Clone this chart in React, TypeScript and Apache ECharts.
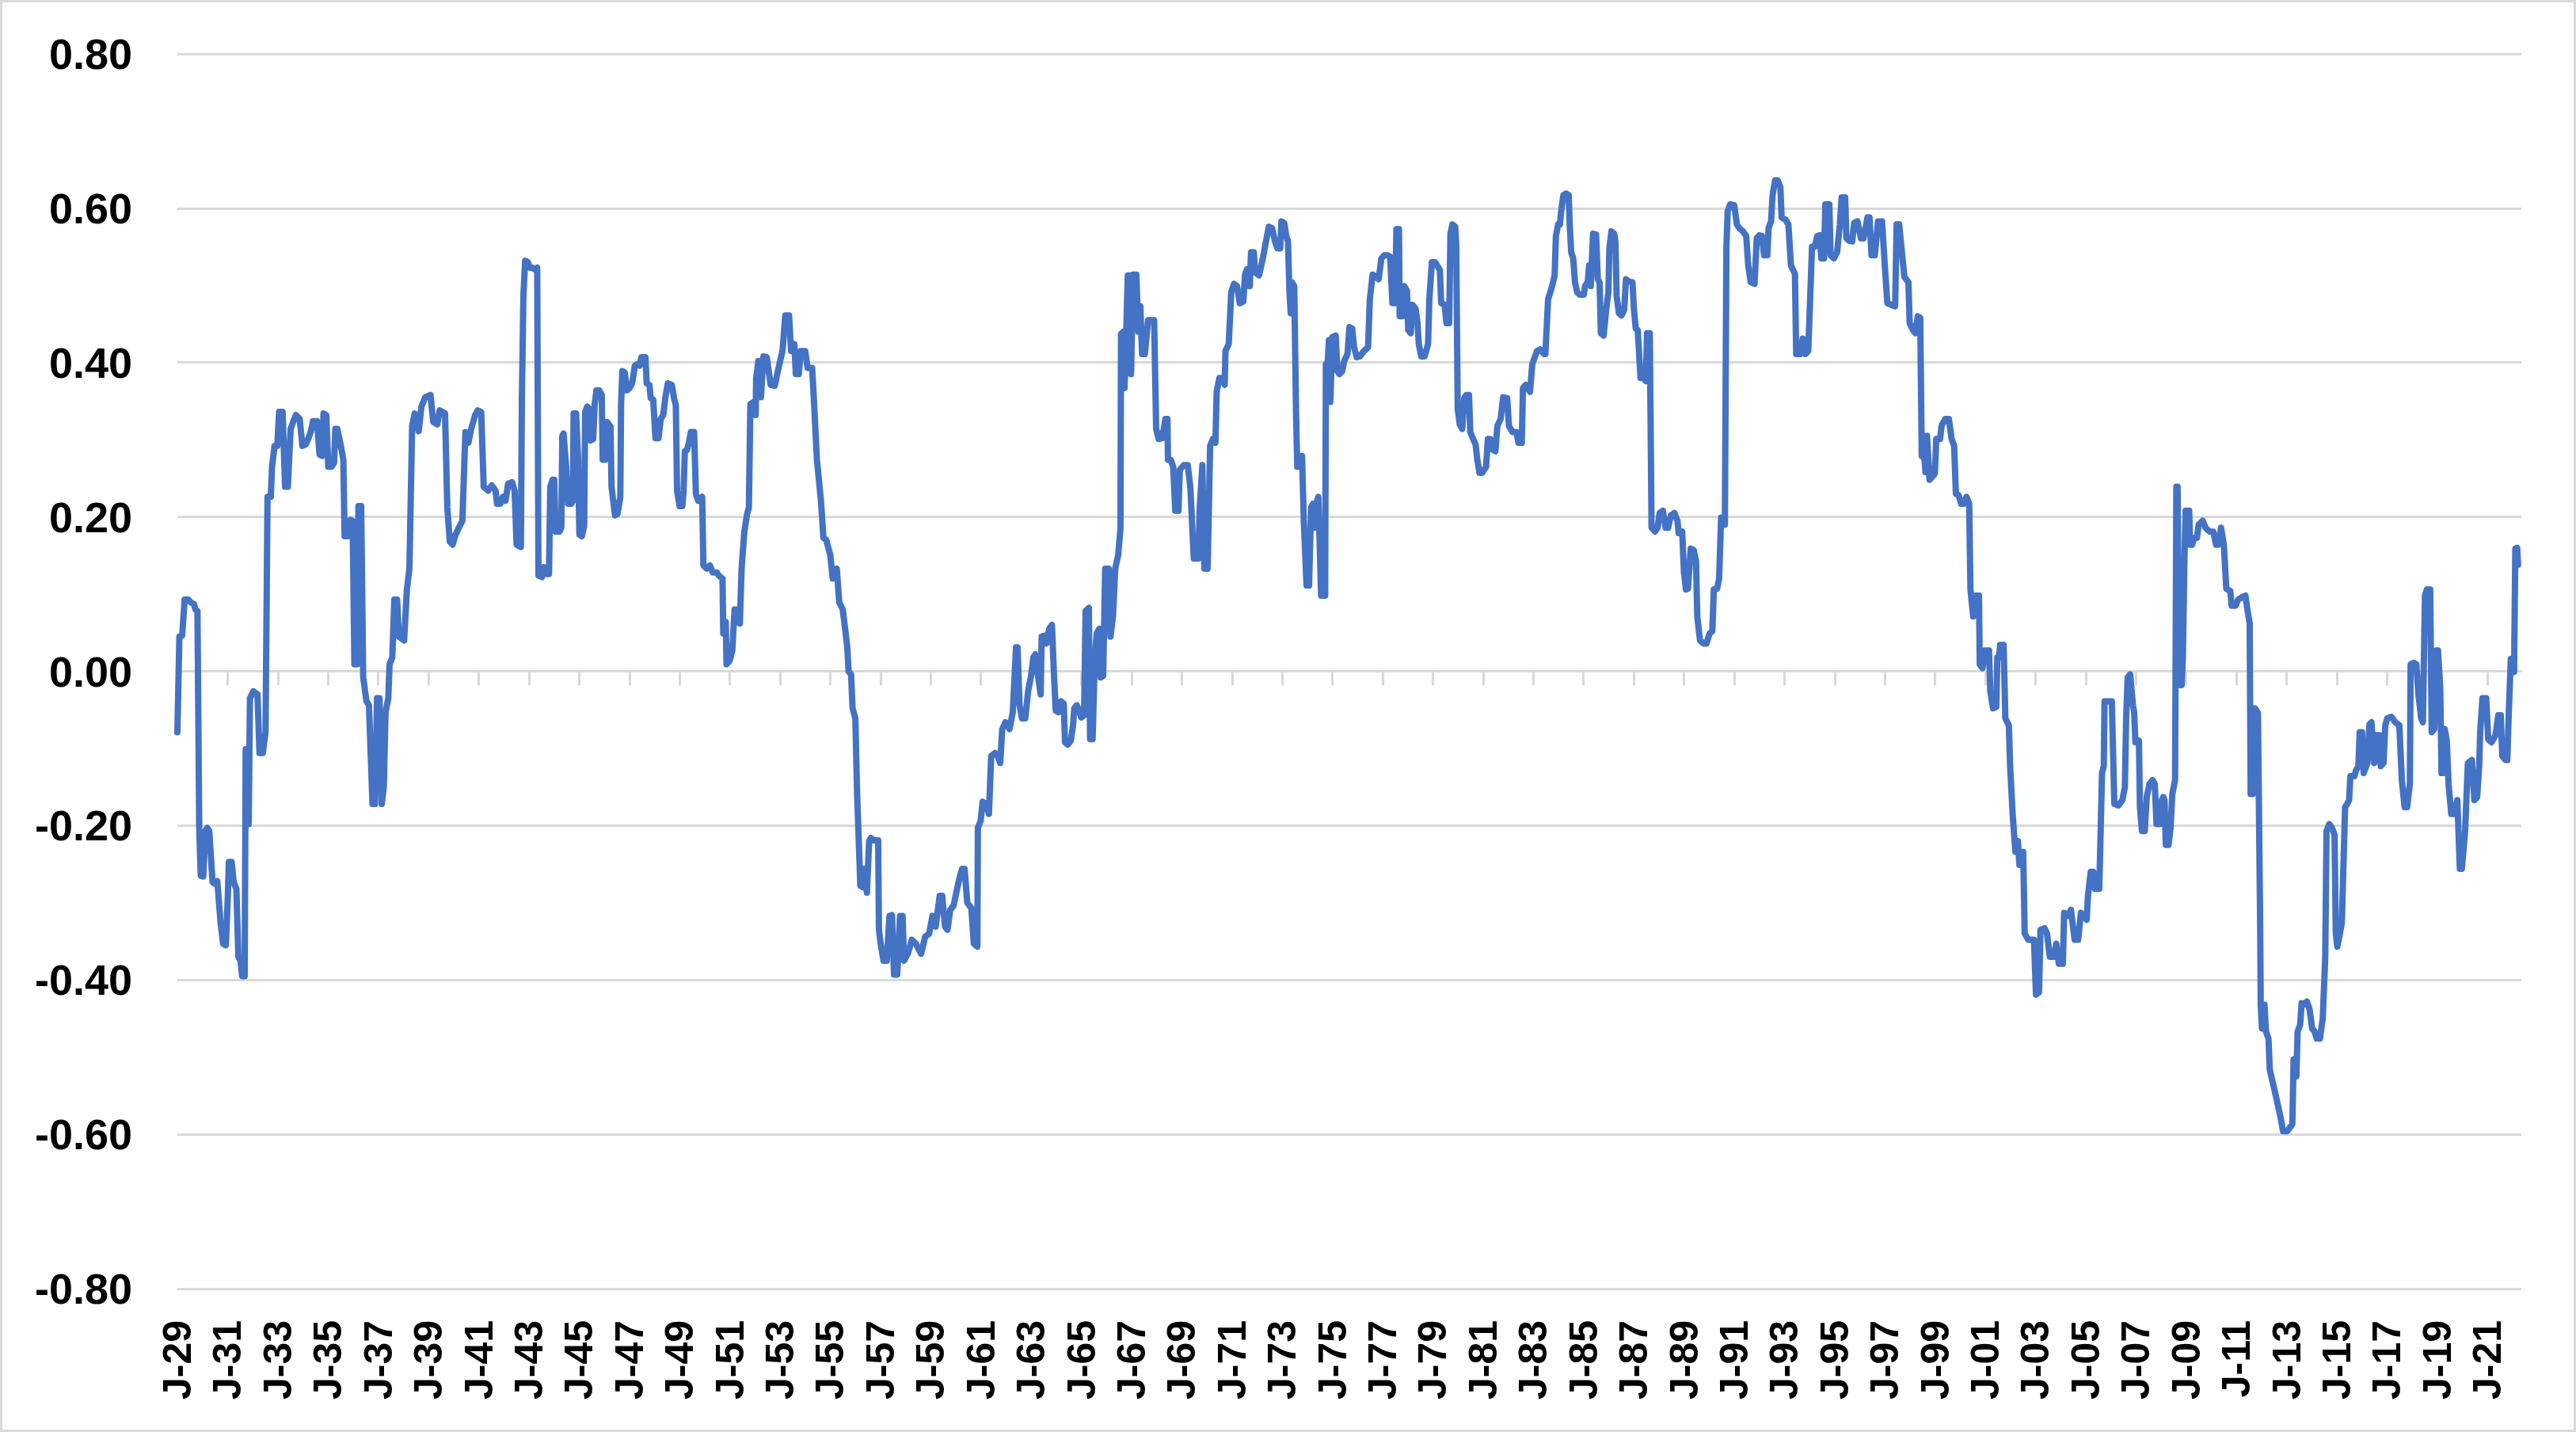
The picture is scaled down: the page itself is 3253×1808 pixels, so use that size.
import React, { useEffect, useRef } from 'react';
import * as echarts from 'echarts';

// [year, value] readings of the monthly series
const seg1929: [number, number][] = [
[1929.00,-0.079],[1929.08,0.045],[1929.19,0.046],[1929.29,0.093],[1929.43,0.093],[1929.54,0.089],[1929.66,0.087],[1929.72,0.080],[1929.80,0.078],[1929.87,-0.203],[1929.93,-0.265],[1930.03,-0.266],[1930.11,-0.207],[1930.19,-0.203],[1930.27,-0.207],[1930.40,-0.273],[1930.48,-0.275],[1930.59,-0.272],[1930.72,-0.326],[1930.82,-0.353],[1930.93,-0.355],[1931.01,-0.291],[1931.05,-0.247],[1931.16,-0.247],[1931.24,-0.273],[1931.35,-0.282],[1931.43,-0.370],[1931.51,-0.375],[1931.58,-0.395],[1931.68,-0.395],[1931.72,-0.101],[1931.77,-0.101],[1931.84,-0.198],[1931.89,-0.035],[1932.03,-0.026],[1932.19,-0.030],[1932.27,-0.106],[1932.40,-0.106],[1932.51,-0.079],[1932.59,0.226],[1932.72,0.226],[1932.77,0.265],[1932.87,0.292],[1932.98,0.292],[1933.05,0.336],[1933.19,0.336],[1933.29,0.239],[1933.40,0.239],[1933.51,0.314],[1933.61,0.323],[1933.72,0.332],[1933.87,0.327],[1933.98,0.292],[1934.11,0.294],[1934.21,0.301],[1934.32,0.311],[1934.40,0.324],[1934.56,0.324],[1934.66,0.281],[1934.77,0.279],[1934.82,0.334],[1934.93,0.332],[1935.01,0.265],[1935.14,0.265],[1935.24,0.270],[1935.29,0.314],[1935.37,0.314],[1935.51,0.292],[1935.61,0.274],[1935.66,0.175],[1935.79,0.175],[1935.89,0.196],[1935.98,0.195],[1936.05,0.009],[1936.16,0.009],[1936.21,0.214],[1936.32,0.214],[1936.40,-0.008],[1936.53,-0.039],[1936.63,-0.044],[1936.77,-0.172],[1936.87,-0.172],[1936.95,-0.035],[1937.05,-0.035],[1937.14,-0.172],[1937.22,-0.150],[1937.29,-0.053],[1937.40,-0.035],[1937.45,0.009],[1937.56,0.018],[1937.64,0.093],[1937.75,0.093],[1937.82,0.045],[1938.03,0.040],[1938.14,0.106],[1938.24,0.133],[1938.35,0.318],[1938.45,0.334],[1938.61,0.311],[1938.72,0.343],[1938.87,0.355],[1939.08,0.358],[1939.19,0.323],[1939.35,0.320],[1939.45,0.338],[1939.66,0.334],[1939.75,0.212],[1939.85,0.168],[1939.96,0.164],[1940.08,0.177],[1940.21,0.186],[1940.35,0.195]
];

const seg1940: [number, number][] = [
[1940.47,0.310],[1940.59,0.296],[1940.70,0.314],[1940.86,0.332],[1940.96,0.338],[1941.10,0.336],[1941.20,0.239],[1941.38,0.234],[1941.52,0.241],[1941.67,0.234],[1941.73,0.217],[1941.86,0.217],[1941.96,0.226],[1942.07,0.221],[1942.17,0.243],[1942.33,0.245],[1942.43,0.234],[1942.51,0.164],[1942.68,0.161],[1942.72,0.354],[1942.78,0.486],[1942.85,0.532],[1942.96,0.530],[1943.03,0.523],[1943.14,0.523],[1943.22,0.521],[1943.33,0.523],[1943.38,0.124],[1943.52,0.122],[1943.59,0.135],[1943.70,0.126],[1943.80,0.126],[1943.85,0.239],[1943.94,0.248],[1944.01,0.248],[1944.06,0.181],[1944.22,0.181],[1944.29,0.186],[1944.33,0.305],[1944.38,0.308],[1944.48,0.265],[1944.56,0.217],[1944.69,0.217],[1944.75,0.221],[1944.78,0.334],[1944.88,0.334],[1944.96,0.274],[1945.01,0.177],[1945.11,0.175],[1945.20,0.188],[1945.24,0.336],[1945.32,0.343],[1945.41,0.340],[1945.45,0.299],[1945.56,0.301],[1945.62,0.346],[1945.69,0.364],[1945.80,0.364],[1945.90,0.358],[1945.94,0.274],[1946.04,0.274],[1946.11,0.323],[1946.25,0.317],[1946.29,0.239],[1946.43,0.202],[1946.53,0.204],[1946.64,0.226],[1946.67,0.345],[1946.72,0.389],[1946.82,0.387],[1946.90,0.364],[1947.01,0.367],[1947.11,0.373],[1947.22,0.396],[1947.32,0.398],[1947.41,0.396],[1947.48,0.407],[1947.64,0.407],[1947.69,0.373],[1947.80,0.371],[1947.85,0.354],[1947.95,0.352],[1948.04,0.302],[1948.16,0.302],[1948.25,0.327],[1948.35,0.332],[1948.43,0.354],[1948.53,0.373],[1948.69,0.371],[1948.79,0.352],[1948.85,0.345],[1948.90,0.234],[1949.00,0.214],[1949.11,0.214],[1949.16,0.234],[1949.21,0.285],[1949.30,0.287],[1949.37,0.296],[1949.45,0.310],[1949.58,0.310],[1949.65,0.230],[1949.74,0.221],[1949.79,0.221],[1949.90,0.226],[1949.95,0.137],[1950.08,0.133],[1950.21,0.137],[1950.32,0.128],[1950.48,0.128],[1950.56,0.124],[1950.71,0.120],[1950.74,0.049],[1950.84,0.064],[1950.87,0.009],[1951.00,0.014],[1951.10,0.027],[1951.19,0.080],[1951.32,0.080],[1951.40,0.062],[1951.47,0.133],[1951.58,0.181],[1951.69,0.204],[1951.76,0.212],[1951.82,0.346],[1951.95,0.349],[1952.03,0.332],[1952.05,0.380],[1952.14,0.402]
];

const seg1952: [number, number][] = [
[1952.24,0.355],[1952.34,0.408],[1952.47,0.407],[1952.63,0.371],[1952.79,0.370],[1952.94,0.393],[1953.10,0.415],[1953.21,0.461],[1953.36,0.461],[1953.44,0.415],[1953.57,0.424],[1953.63,0.385],[1953.75,0.385],[1953.82,0.415],[1954.00,0.415],[1954.10,0.393],[1954.28,0.393],[1954.36,0.345],[1954.47,0.274],[1954.63,0.221],[1954.73,0.173],[1954.84,0.170],[1955.00,0.151],[1955.10,0.120],[1955.26,0.133],[1955.36,0.089],[1955.50,0.080],[1955.68,0.031],[1955.73,0.000],[1955.83,-0.004],[1955.89,-0.048],[1956.00,-0.061],[1956.07,-0.159],[1956.20,-0.278],[1956.31,-0.280],[1956.36,-0.256],[1956.46,-0.287],[1956.55,-0.220],[1956.62,-0.216],[1956.73,-0.219],[1956.91,-0.219],[1956.94,-0.335],[1957.01,-0.353],[1957.12,-0.375],[1957.25,-0.375],[1957.36,-0.317],[1957.46,-0.316],[1957.54,-0.393],[1957.67,-0.393],[1957.78,-0.317],[1957.88,-0.317],[1957.94,-0.375],[1958.09,-0.366],[1958.25,-0.348],[1958.41,-0.353],[1958.62,-0.366],[1958.78,-0.344],[1958.94,-0.340],[1959.07,-0.317],[1959.20,-0.331],[1959.36,-0.291],[1959.46,-0.291],[1959.57,-0.331],[1959.67,-0.335],[1959.78,-0.309],[1959.91,-0.304],[1960.02,-0.287],[1960.14,-0.269],[1960.25,-0.256],[1960.35,-0.256],[1960.46,-0.300],[1960.62,-0.307],[1960.72,-0.353],[1960.86,-0.357],[1960.88,-0.203],[1960.99,-0.194],[1961.07,-0.169],[1961.20,-0.172],[1961.32,-0.185],[1961.41,-0.110],[1961.56,-0.106],[1961.67,-0.110],[1961.77,-0.119],[1961.85,-0.075],[1961.98,-0.066],[1962.14,-0.075],[1962.27,-0.053],[1962.40,0.031],[1962.46,0.031],[1962.54,-0.044],[1962.64,-0.061],[1962.77,-0.061],[1962.88,-0.026],[1963.00,-0.006],[1963.09,0.018],[1963.17,0.022],[1963.25,0.000],[1963.38,-0.030],[1963.42,0.045],[1963.53,0.046],[1963.61,0.036],[1963.72,0.055]
];

const seg1963: [number, number][] = [
[1963.83,0.060],[1963.91,-0.004],[1963.98,-0.051],[1964.09,-0.053],[1964.19,-0.039],[1964.30,-0.042],[1964.35,-0.092],[1964.46,-0.095],[1964.58,-0.090],[1964.67,-0.070],[1964.72,-0.048],[1964.82,-0.044],[1964.93,-0.053],[1965.00,-0.060],[1965.11,-0.057],[1965.17,0.078],[1965.30,0.082],[1965.35,-0.088],[1965.45,-0.088],[1965.53,0.009],[1965.61,0.049],[1965.72,0.055],[1965.77,-0.008],[1965.87,-0.006],[1965.95,0.133],[1966.09,0.133],[1966.16,0.045],[1966.26,0.071],[1966.35,0.133],[1966.47,0.151],[1966.56,0.186],[1966.58,0.437],[1966.68,0.440],[1966.72,0.367],[1966.79,0.442],[1966.85,0.513],[1966.93,0.513],[1966.98,0.385],[1967.06,0.514],[1967.19,0.514],[1967.27,0.440],[1967.35,0.473],[1967.42,0.411],[1967.53,0.411],[1967.66,0.455],[1967.77,0.455],[1967.90,0.455],[1967.98,0.314],[1968.08,0.301],[1968.22,0.302],[1968.35,0.327],[1968.43,0.327],[1968.45,0.274],[1968.56,0.274],[1968.66,0.265],[1968.74,0.208],[1968.87,0.208],[1968.92,0.261],[1969.08,0.267],[1969.24,0.267],[1969.34,0.239],[1969.48,0.146],[1969.66,0.146],[1969.71,0.208],[1969.82,0.267],[1969.90,0.133],[1970.03,0.133],[1970.13,0.292],[1970.24,0.301],[1970.34,0.296],[1970.39,0.362],[1970.50,0.380],[1970.61,0.380],[1970.71,0.371],[1970.74,0.415],[1970.87,0.424],[1970.97,0.491],[1971.08,0.502],[1971.20,0.499],[1971.31,0.477],[1971.45,0.479],[1971.52,0.514],[1971.60,0.521],[1971.71,0.499],[1971.76,0.543],[1971.87,0.543],[1971.92,0.517],[1972.08,0.513],[1972.23,0.535],[1972.36,0.558],[1972.47,0.576],[1972.60,0.574],[1972.71,0.557],[1972.81,0.548],[1972.92,0.548],[1972.97,0.583],[1973.08,0.581],[1973.16,0.564],[1973.23,0.557],[1973.29,0.491],[1973.34,0.464],[1973.39,0.504],[1973.48,0.499],[1973.55,0.336],[1973.60,0.265],[1973.73,0.265],[1973.79,0.279],[1973.86,0.195],[1973.97,0.111],[1974.07,0.111],[1974.15,0.212],[1974.23,0.217],[1974.32,0.186],[1974.39,0.221],[1974.44,0.226],[1974.55,0.098],[1974.71,0.098],[1974.74,0.398],[1974.81,0.400],[1974.86,0.429],[1974.92,0.349],[1974.99,0.433],[1975.13,0.435],[1975.20,0.389],[1975.28,0.385],[1975.39,0.389],[1975.47,0.402]
];

const seg1975: [number, number][] = [
[1975.60,0.411],[1975.68,0.446],[1975.79,0.444],[1975.86,0.420],[1975.97,0.407],[1976.10,0.408],[1976.23,0.414],[1976.42,0.420],[1976.49,0.482],[1976.60,0.514],[1976.73,0.511],[1976.84,0.508],[1976.95,0.535],[1977.07,0.539],[1977.20,0.539],[1977.30,0.537],[1977.39,0.477],[1977.49,0.477],[1977.55,0.573],[1977.65,0.573],[1977.68,0.460],[1977.79,0.460],[1977.86,0.499],[1977.97,0.493],[1978.02,0.442],[1978.12,0.438],[1978.18,0.475],[1978.31,0.470],[1978.39,0.451],[1978.44,0.424],[1978.54,0.408],[1978.67,0.408],[1978.81,0.424],[1978.86,0.482],[1978.96,0.530],[1979.09,0.530],[1979.28,0.520],[1979.33,0.477],[1979.47,0.475],[1979.54,0.451],[1979.65,0.451],[1979.70,0.567],[1979.78,0.579],[1979.89,0.576],[1979.93,0.552],[1979.99,0.340],[1980.07,0.320],[1980.17,0.314],[1980.25,0.354],[1980.33,0.358],[1980.44,0.358],[1980.49,0.310],[1980.59,0.302],[1980.70,0.294],[1980.77,0.274],[1980.86,0.257],[1980.96,0.257],[1981.12,0.265],[1981.19,0.301],[1981.28,0.301],[1981.38,0.287],[1981.49,0.285],[1981.57,0.318],[1981.70,0.327],[1981.80,0.355],[1981.96,0.354],[1982.03,0.318],[1982.17,0.310],[1982.33,0.310],[1982.41,0.296],[1982.54,0.296],[1982.59,0.367],[1982.70,0.371],[1982.87,0.362],[1982.96,0.398],[1983.06,0.407],[1983.15,0.415],[1983.27,0.417],[1983.43,0.411],[1983.48,0.411],[1983.59,0.482],[1983.75,0.499],[1983.85,0.513],[1983.90,0.564],[1983.99,0.579],[1984.06,0.579],[1984.11,0.596],[1984.20,0.617],[1984.30,0.619],[1984.41,0.617],[1984.45,0.579],[1984.51,0.543],[1984.59,0.535],[1984.66,0.504],[1984.75,0.491],[1984.85,0.488],[1985.01,0.488],[1985.06,0.499],[1985.17,0.505],[1985.22,0.526],[1985.29,0.499],[1985.38,0.567],[1985.50,0.566],[1985.57,0.508],[1985.64,0.504],[1985.69,0.438],[1985.80,0.435],[1985.90,0.468],[1985.99,0.491],[1986.03,0.548],[1986.11,0.570],[1986.22,0.567],[1986.27,0.557],[1986.32,0.486],[1986.41,0.464],[1986.51,0.461],[1986.62,0.468],[1986.69,0.508],[1986.80,0.505],[1986.95,0.504],[1987.01,0.468],[1987.08,0.444],[1987.16,0.442]
];

const seg1987: [number, number][] = [
[1987.27,0.380],[1987.40,0.380],[1987.48,0.376],[1987.53,0.438],[1987.64,0.438],[1987.71,0.186],[1987.85,0.181],[1987.95,0.186],[1988.03,0.205],[1988.16,0.208],[1988.27,0.186],[1988.37,0.186],[1988.48,0.202],[1988.62,0.205],[1988.74,0.195],[1988.79,0.179],[1988.93,0.181],[1989.00,0.128],[1989.08,0.106],[1989.16,0.107],[1989.27,0.159],[1989.39,0.157],[1989.48,0.142],[1989.53,0.071],[1989.64,0.040],[1989.77,0.036],[1989.90,0.036],[1990.02,0.049],[1990.13,0.052],[1990.19,0.106],[1990.32,0.107],[1990.40,0.120],[1990.48,0.199],[1990.55,0.195],[1990.63,0.190],[1990.69,0.548],[1990.74,0.596],[1990.84,0.605],[1991.00,0.604],[1991.11,0.579],[1991.21,0.574],[1991.35,0.570],[1991.48,0.564],[1991.56,0.526],[1991.66,0.504],[1991.81,0.502],[1991.90,0.561],[1992.00,0.565],[1992.11,0.564],[1992.19,0.539],[1992.32,0.539],[1992.37,0.574],[1992.47,0.583],[1992.53,0.617],[1992.63,0.636],[1992.74,0.636],[1992.84,0.627],[1992.89,0.588],[1993.05,0.585],[1993.16,0.579],[1993.26,0.526],[1993.42,0.515],[1993.47,0.411],[1993.63,0.411],[1993.73,0.431],[1993.84,0.411],[1993.95,0.415],[1994.05,0.504],[1994.10,0.550],[1994.21,0.550],[1994.31,0.564],[1994.40,0.565],[1994.47,0.535],[1994.58,0.535],[1994.63,0.605],[1994.79,0.605],[1994.84,0.539],[1994.97,0.535],[1995.10,0.543],[1995.21,0.579],[1995.28,0.614],[1995.42,0.614],[1995.47,0.561],[1995.57,0.558],[1995.70,0.557],[1995.78,0.581],[1995.91,0.583],[1996.05,0.561],[1996.15,0.561],[1996.23,0.574],[1996.31,0.588],[1996.39,0.588],[1996.47,0.539],[1996.60,0.539],[1996.73,0.583],[1996.89,0.583],[1996.99,0.530],[1997.10,0.477],[1997.24,0.475],[1997.41,0.473],[1997.47,0.579],[1997.57,0.579],[1997.68,0.543],[1997.78,0.511],[1997.94,0.504],[1997.99,0.451],[1998.12,0.442],[1998.22,0.438],[1998.31,0.460],[1998.41,0.458],[1998.47,0.279],[1998.57,0.279],[1998.62,0.258],[1998.68,0.305],[1998.78,0.248]
];

const seg1999: [number, number][] = [
[1998.99,0.256],[1999.05,0.301],[1999.20,0.301],[1999.26,0.318],[1999.34,0.323],[1999.41,0.327],[1999.55,0.327],[1999.66,0.301],[1999.76,0.292],[1999.83,0.230],[1999.94,0.228],[2000.04,0.217],[2000.15,0.217],[2000.25,0.226],[2000.36,0.217],[2000.41,0.106],[2000.52,0.071],[2000.62,0.098],[2000.75,0.098],[2000.78,0.009],[2000.89,0.004],[2000.99,0.027],[2001.15,0.027],[2001.20,-0.026],[2001.31,-0.048],[2001.44,-0.046],[2001.48,0.018],[2001.55,0.018],[2001.59,0.034],[2001.73,0.034],[2001.80,-0.061],[2001.94,-0.070],[2001.99,-0.123],[2002.09,-0.185],[2002.20,-0.234],[2002.30,-0.220],[2002.36,-0.251],[2002.51,-0.234],[2002.57,-0.340],[2002.72,-0.348],[2002.94,-0.348],[2003.02,-0.419],[2003.14,-0.416],[2003.20,-0.335],[2003.36,-0.333],[2003.46,-0.340],[2003.57,-0.370],[2003.72,-0.370],[2003.83,-0.353],[2003.93,-0.379],[2004.09,-0.379],[2004.14,-0.313],[2004.30,-0.317],[2004.41,-0.309],[2004.56,-0.348],[2004.70,-0.348],[2004.81,-0.313],[2004.93,-0.317],[2005.04,-0.322],[2005.09,-0.291],[2005.20,-0.260],[2005.30,-0.260],[2005.37,-0.282],[2005.54,-0.282],[2005.65,-0.132],[2005.72,-0.123],[2005.75,-0.039],[2005.88,-0.039],[2006.04,-0.039],[2006.14,-0.172],[2006.30,-0.174],[2006.46,-0.167],[2006.56,-0.150],[2006.61,-0.061],[2006.67,-0.008],[2006.77,-0.004],[2006.88,-0.044],[2006.93,-0.053],[2006.98,-0.092],[2007.12,-0.090],[2007.16,-0.176],[2007.24,-0.207],[2007.35,-0.207],[2007.43,-0.163],[2007.54,-0.146],[2007.66,-0.141],[2007.75,-0.146],[2007.82,-0.198],[2007.96,-0.198],[2008.03,-0.167],[2008.09,-0.163],[2008.14,-0.167],[2008.19,-0.225],[2008.30,-0.225],[2008.38,-0.203],[2008.45,-0.159],[2008.56,-0.141],[2008.61,0.239],[2008.66,0.239],[2008.72,-0.018],[2008.82,-0.018],[2008.87,0.018],[2008.93,0.142],[2008.98,0.208],[2009.12,0.208],[2009.16,0.164],[2009.24,0.164],[2009.32,0.173],[2009.43,0.173],[2009.50,0.190],[2009.66,0.195],[2009.77,0.186],[2009.93,0.181],[2010.08,0.181],[2010.19,0.164],[2010.28,0.164]
];

const seg2010: [number, number][] = [
[2010.39,0.186],[2010.50,0.164],[2010.60,0.107],[2010.76,0.104],[2010.81,0.085],[2010.97,0.085],[2011.07,0.093],[2011.23,0.096],[2011.36,0.098],[2011.44,0.080],[2011.53,0.062],[2011.57,-0.159],[2011.65,-0.159],[2011.74,-0.048],[2011.86,-0.054],[2011.95,-0.335],[2011.97,-0.432],[2012.02,-0.463],[2012.12,-0.432],[2012.18,-0.467],[2012.28,-0.476],[2012.33,-0.516],[2012.55,-0.547],[2012.76,-0.578],[2012.86,-0.596],[2013.02,-0.596],[2013.23,-0.587],[2013.28,-0.503],[2013.39,-0.525],[2013.44,-0.467],[2013.54,-0.458],[2013.60,-0.430],[2013.70,-0.432],[2013.81,-0.428],[2013.91,-0.437],[2014.02,-0.463],[2014.12,-0.467],[2014.20,-0.476],[2014.33,-0.476],[2014.44,-0.450],[2014.54,-0.370],[2014.59,-0.207],[2014.70,-0.198],[2014.81,-0.203],[2014.91,-0.212],[2014.96,-0.340],[2015.02,-0.357],[2015.10,-0.344],[2015.20,-0.326],[2015.28,-0.234],[2015.33,-0.176],[2015.41,-0.172],[2015.49,-0.167],[2015.54,-0.136],[2015.70,-0.136],[2015.77,-0.128],[2015.86,-0.123],[2015.91,-0.079],[2016.01,-0.079],[2016.07,-0.132],[2016.22,-0.119],[2016.30,-0.069],[2016.38,-0.066],[2016.49,-0.119],[2016.59,-0.083],[2016.70,-0.083],[2016.75,-0.123],[2016.86,-0.119],[2016.93,-0.070],[2017.01,-0.061],[2017.17,-0.059],[2017.33,-0.066],[2017.49,-0.070],[2017.59,-0.141],[2017.70,-0.176],[2017.80,-0.176],[2017.91,-0.146],[2017.94,0.009],[2018.06,0.011],[2018.17,0.009],[2018.25,-0.030],[2018.36,-0.061],[2018.43,-0.066],[2018.51,0.098],[2018.59,0.106],[2018.72,0.106],[2018.78,-0.079],[2018.88,-0.075],[2018.96,0.027],[2019.03,0.027],[2019.12,-0.022],[2019.17,-0.132],[2019.24,-0.132],[2019.30,-0.075],[2019.38,-0.090],[2019.45,-0.146],[2019.56,-0.185],[2019.69,-0.185],[2019.80,-0.167],[2019.90,-0.256],[2019.98,-0.256],[2020.11,-0.207],[2020.22,-0.119],[2020.38,-0.115],[2020.48,-0.167],[2020.59,-0.163],[2020.67,-0.123],[2020.71,-0.079],[2020.80,-0.035],[2020.95,-0.035],[2021.03,-0.088],[2021.16,-0.092],[2021.32,-0.083],[2021.43,-0.057],[2021.53,-0.057],[2021.59,-0.110],[2021.72,-0.115],[2021.79,-0.115],[2021.85,-0.053],[2021.93,0.016],[2022.06,-0.001],[2022.11,0.159],[2022.18,0.160],[2022.22,0.138]
];

const xMin = 1929;
const xMax = 2022.35;
const yMin = -0.8;
const yMax = 0.8;
const yStep = 0.2;
const labelYears: number[] = [];
for (let y = 1929; y <= 2021; y += 2) labelYears.push(y);

const FONT = '"Liberation Sans", Arial, sans-serif';

export default function App() {
  const ref = useRef<HTMLDivElement>(null);
  useEffect(() => {
    if (!ref.current) return;
    const chart = echarts.init(ref.current, null, { renderer: 'svg' });
    const data = [...seg1929, ...seg1940, ...seg1952, ...seg1963, ...seg1975, ...seg1987, ...seg1999, ...seg2010];
    chart.setOption({
      animation: false,
      backgroundColor: '#ffffff',
      graphic: [
        {
          type: 'rect',
          silent: true,
          shape: { x: 1.5, y: 1.5, width: 3250, height: 1805 },
          style: { fill: 'none', stroke: '#D9D9D9', lineWidth: 3 },
        },
      ],
      grid: { left: 224, right: 69, top: 68, bottom: 181 },
      xAxis: [
        {
          type: 'value',
          min: xMin,
          max: xMax,
          position: 'bottom',
          axisLine: { show: false, onZero: false },
          axisTick: { show: false },
          splitLine: { show: false },
          axisLabel: {
            customValues: labelYears,
            rotate: 90,
            margin: 40,
            fontFamily: FONT,
            fontWeight: 'bold',
            fontSize: 50,
            color: '#000000',
            formatter: (v: number) => 'J-' + String(Math.round(v) % 100).padStart(2, '0'),
          },
        },
        {
          type: 'value',
          min: xMin,
          max: xMax,
          position: 'bottom',
          axisLine: { show: true, onZero: true, lineStyle: { color: '#D9D9D9', width: 3 } },
          axisTick: { show: true, customValues: labelYears, length: 18, lineStyle: { color: '#D9D9D9', width: 3 } },
          axisLabel: { show: false },
          splitLine: { show: false },
        },
      ],
      yAxis: {
        type: 'value',
        min: yMin,
        max: yMax,
        interval: yStep,
        axisLine: { show: false },
        axisTick: { show: false },
        splitLine: { show: true, lineStyle: { color: '#D9D9D9', width: 3 } },
        axisLabel: {
          margin: 57,
          fontFamily: FONT,
          fontWeight: 'bold',
          fontSize: 54,
          color: '#000000',
          formatter: (v: number) => (Math.abs(v) < 1e-9 ? 0 : v).toFixed(2),
        },
      },
      series: [
        {
          type: 'line',
          xAxisIndex: 0,
          yAxisIndex: 0,
          data,
          showSymbol: false,
          symbol: 'none',
          z: 5,
          lineStyle: { color: '#4472C4', width: 8, join: 'round', cap: 'round' },
        },
      ],
    });
    return () => chart.dispose();
  }, []);
  return (
    <div
      ref={ref}
      style={{ position: 'absolute', left: 0, top: 0, width: 3253, height: 1808, background: '#ffffff' }}
    />
  );
}
